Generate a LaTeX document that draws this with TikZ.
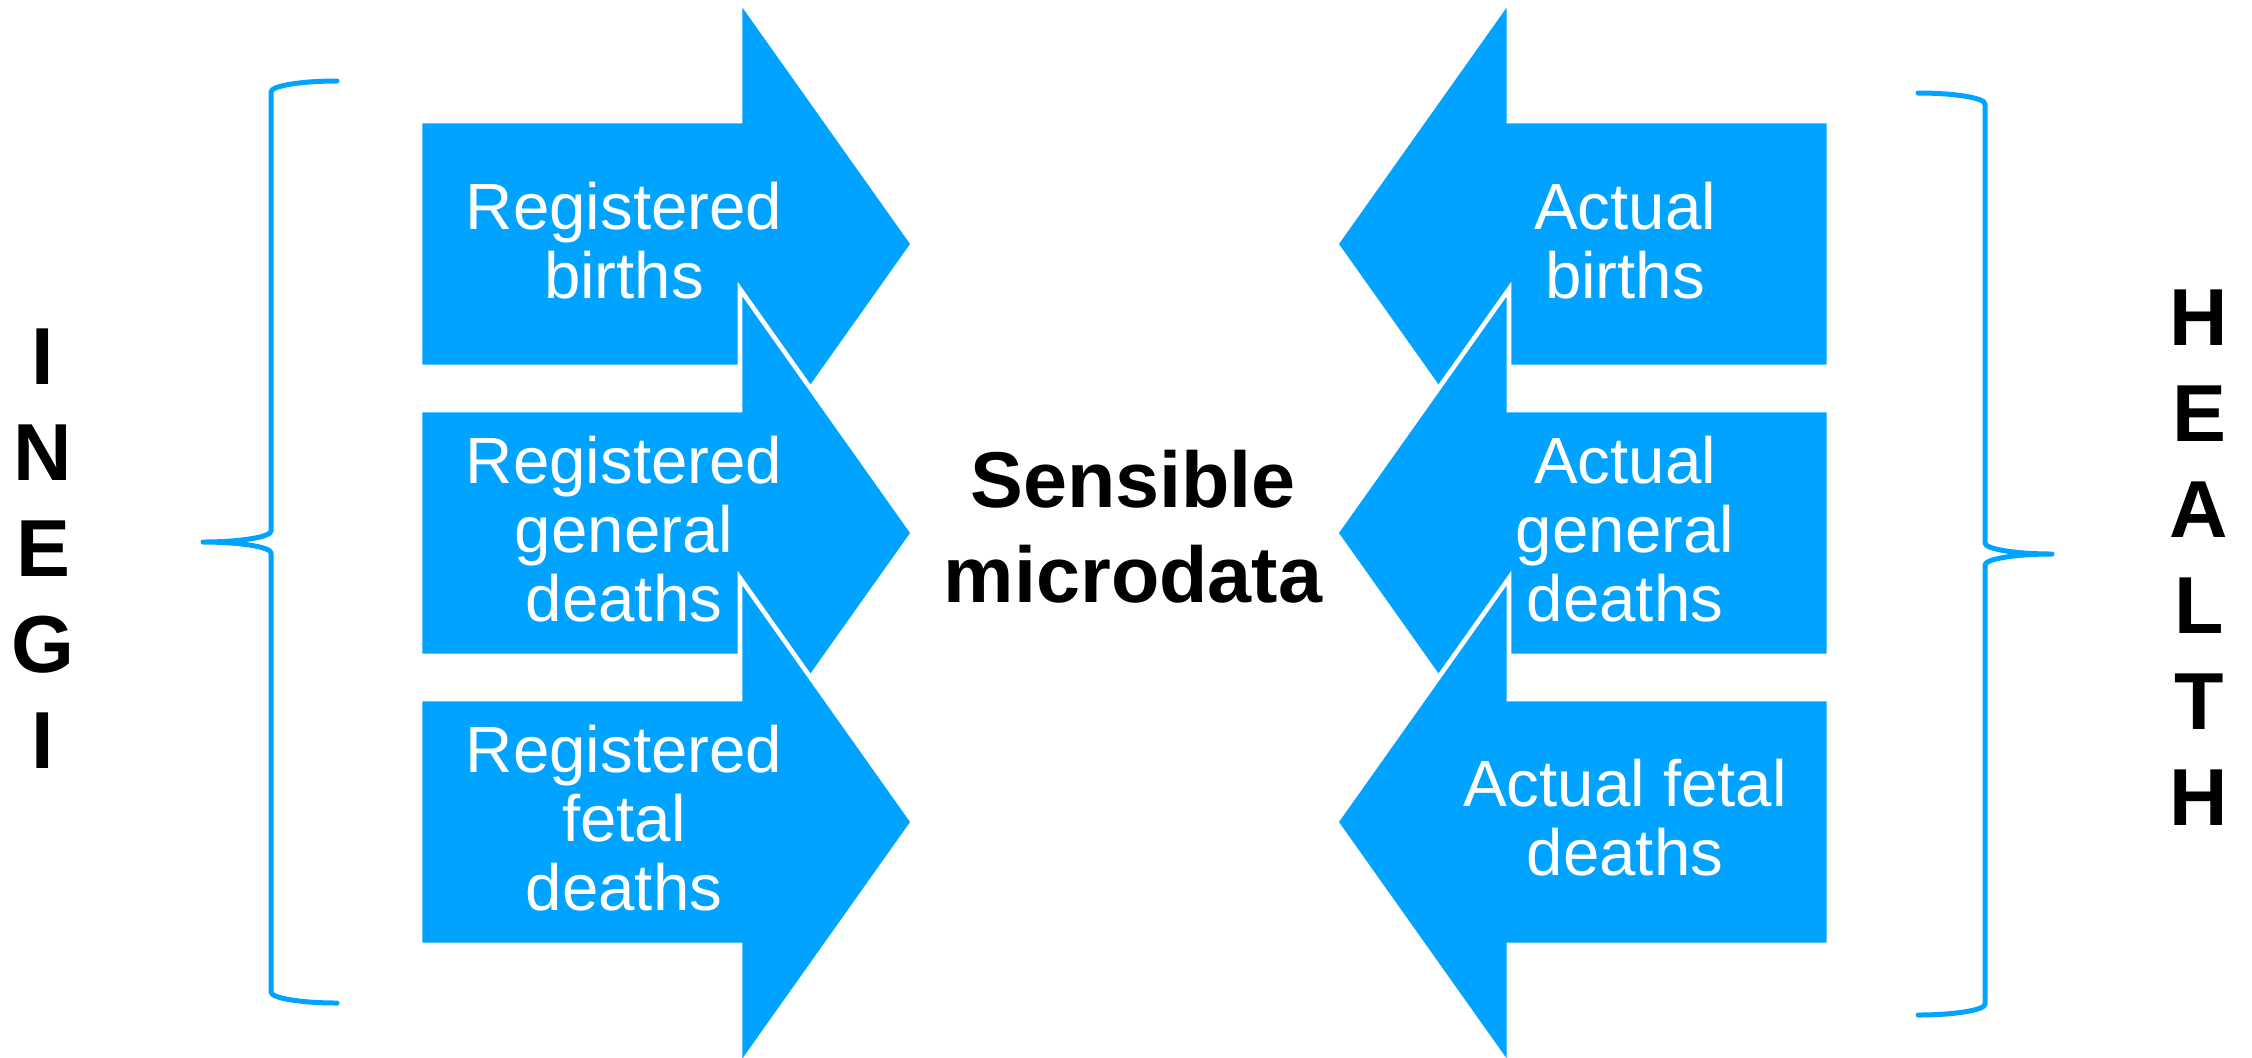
\documentclass[tikz,border=0pt]{standalone}
\usepackage{fontspec}
\setmainfont{Liberation Sans}
\definecolor{arrowblue}{HTML}{00A3FF}
\tikzset{
  blockarrow/.style={fill=arrowblue, draw=white, line width=1.3pt, line join=miter, miter limit=10},
  lbl/.style={text=white, align=center, font=\fontsize{18.6}{19.6}\selectfont, inner sep=0pt},
  sidelbl/.style={align=center, font=\bfseries\fontsize{23}{27.3}\selectfont, inner sep=0pt},
  centerlbl/.style={align=center, font=\bfseries\fontsize{22.5}{27}\selectfont, inner sep=0pt},
  bracket/.style={draw=arrowblue, line width=1.42pt, line cap=round, line join=round},
}
\newcommand{\RightBlock}[1]{\path[blockarrow] (420,#1-123) -- (740,#1-123) -- (740,#1-244) -- (913,#1) -- (740,#1+244) -- (740,#1+123) -- (420,#1+123) -- cycle;}
\newcommand{\LeftBlock}[1]{\path[blockarrow] (1829,#1-123) -- (1509,#1-123) -- (1509,#1-244) -- (1336,#1) -- (1509,#1+244) -- (1509,#1+123) -- (1829,#1+123) -- cycle;}
\begin{document}
\begin{tikzpicture}[x=0.01cm,y=-0.01cm]
\useasboundingbox (0,0) rectangle (2252,1057);
\clip (0,0) rectangle (2252,1057);
% left arrows
\RightBlock{244}
\RightBlock{533}
\RightBlock{822}
% right arrows
\LeftBlock{244}
\LeftBlock{533}
\LeftBlock{822}
% labels
\node[lbl] (rb) at (624,241) {Registered\\births};
\node[lbl] (rg) at (624,529) {Registered\\general\\deaths};
\node[lbl] (rf) at (624,818) {Registered\\fetal\\deaths};
\node[lbl] (ab) at (1625,241) {Actual\\births};
\node[lbl] (ag) at (1625,529) {Actual\\general\\deaths};
\node[lbl] (af) at (1625,818) {Actual fetal\\deaths};
\node[centerlbl] (sm) at (1133,527) {Sensible\\microdata};
\node[sidelbl] (inegi) at (43,549) {I\\N\\E\\G\\I};
\node[sidelbl] (health) at (2199,558) {H\\E\\A\\L\\T\\H};
% braces
\draw[bracket] (337,81) .. controls (300,81) and (271,86) .. (271,92) -- (271,531)
  .. controls (271,537) and (240,542) .. (203,542)
  .. controls (240,542) and (271,547) .. (271,553) -- (271,992)
  .. controls (271,998) and (300,1003) .. (337,1003);
\draw[bracket] (1918,93) .. controls (1955,93) and (1985,98) .. (1985,104) -- (1985,543)
  .. controls (1985,549) and (2015,554) .. (2052,554)
  .. controls (2015,554) and (1985,559) .. (1985,565) -- (1985,1004)
  .. controls (1985,1010) and (1955,1015) .. (1918,1015);
\end{tikzpicture}
\end{document}
